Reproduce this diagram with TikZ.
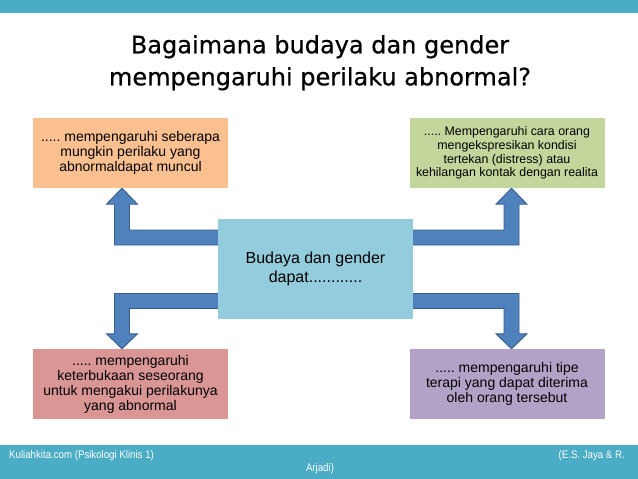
\documentclass[tikz,border=0pt]{standalone}
\usepackage{fontspec}
\setmainfont{Liberation Sans}
\newfontfamily\judulfont[FakeBold=0.6]{DejaVu Sans}
\newfontfamily\kakifont[FakeStretch=0.88]{Liberation Sans}
\usetikzlibrary{calc, backgrounds}
\frenchspacing
\definecolor{pitabiru}{HTML}{4BACC6}
\definecolor{pusatbiru}{HTML}{93CDDD}
\definecolor{oranye}{HTML}{FAC090}
\definecolor{hijau}{HTML}{C3D69B}
\definecolor{merah}{HTML}{D99694}
\definecolor{ungu}{HTML}{B3A2C7}
\definecolor{panahisi}{HTML}{4F81BD}
\definecolor{panahtepi}{HTML}{385D8A}
\tikzset{
    x=1pt, y=-1pt, % one unit is one pixel of the slide, y runs downward
    kotak/.style={minimum width=195pt, minimum height=70pt, inner sep=0pt, align=center,
        font=\fontsize{14}{15}\selectfont}, % the coloured boxes
    judul/.style={align=center, inner sep=0pt, font=\judulfont\fontsize{24}{32}\selectfont}, % slide title
    kaki/.style={inner sep=0pt, text=white, font=\kakifont\fontsize{11}{12}\selectfont}, % footer text
    panah/.style={fill=panahisi, draw=panahtepi, line width=0.9pt, line join=miter}, % bent block arrows
    }

\begin{document}
\begin{tikzpicture}
\useasboundingbox (0,0) rectangle (638,479);
\fill[pitabiru] (0,0) rectangle (638,13);
\fill[pitabiru] (0,445) rectangle (638,479);

\node[judul] (judul) at (320,62.7) {Bagaimana budaya dan gender\\mempengaruhi perilaku abnormal?};

\node[kotak, fill=pusatbiru, minimum height=100pt, font=\fontsize{16}{19}\selectfont] (pusat) at (315.5,269) {Budaya dan gender\\dapat............};
\node[kotak, fill=oranye] (kemungkinan) at (130.5,153) {..... mempengaruhi seberapa\\mungkin perilaku yang\\abnormaldapat muncul};
\node[kotak, fill=hijau, font=\fontsize{12.4}{13.8}\selectfont] (ekspresi) at (507,153) {..... Mempengaruhi cara orang\\mengekspresikan kondisi\\tertekan (distress) atau\\kehilangan kontak dengan realita};
\node[kotak, fill=merah] (keterbukaan) at (130.5,384) {..... mempengaruhi\\keterbukaan seseorang\\untuk mengakui perilakunya\\yang abnormal};
\node[kotak, fill=ungu] (terapi) at (507,384) {..... mempengaruhi tipe\\terapi yang dapat diterima\\oleh orang tersebut};

\node[kaki, anchor=base west] (sumber) at (9,458) {Kuliahkita.com (Psikologi Klinis 1)};
\node[kaki, anchor=base east] (penulis) at (625,458) {(E.S. Jaya \& R.};
\node[kaki, anchor=base] (penulis2) at (320,471) {Arjadi)};

% start of each arrow (inside the centre box) and its tip
\coordinate (a1) at ($(pusat.west)+(3,-31.5)$);
\coordinate (t1) at ($(kemungkinan.south)+(-8.5,0)$);
\coordinate (a2) at ($(pusat.east)+(-3,-31.5)$);
\coordinate (t2) at ($(ekspresi.south)+(4.5,0)$);
\coordinate (a3) at ($(pusat.west)+(3,32)$);
\coordinate (t3) at ($(keterbukaan.north)+(-8.5,0)$);
\coordinate (a4) at ($(pusat.east)+(-3,32)$);
\coordinate (t4) at ($(terapi.north)+(4.5,0)$);

\begin{scope}[on background layer]
\draw[panah] ($(a1)+(0,-7.5)$) -| ($(t1)+(7.5,16)$) -- ++(8,0) -- (t1) -- ++(-15.5,16) -- ++(8,0) |- ($(a1)+(0,7.5)$) -- cycle;
\draw[panah] ($(a2)+(0,-7.5)$) -| ($(t2)+(-7.5,16)$) -- ++(-8,0) -- (t2) -- ++(15.5,16) -- ++(-8,0) |- ($(a2)+(0,7.5)$) -- cycle;
\draw[panah] ($(a3)+(0,7.5)$) -| ($(t3)+(7.5,-15)$) -- ++(8,0) -- (t3) -- ++(-15.5,-15) -- ++(8,0) |- ($(a3)+(0,-7.5)$) -- cycle;
\draw[panah] ($(a4)+(0,7.5)$) -| ($(t4)+(-7.5,-15)$) -- ++(-8,0) -- (t4) -- ++(15.5,-15) -- ++(-8,0) |- ($(a4)+(0,-7.5)$) -- cycle;
\end{scope}
\end{tikzpicture}
\end{document}
